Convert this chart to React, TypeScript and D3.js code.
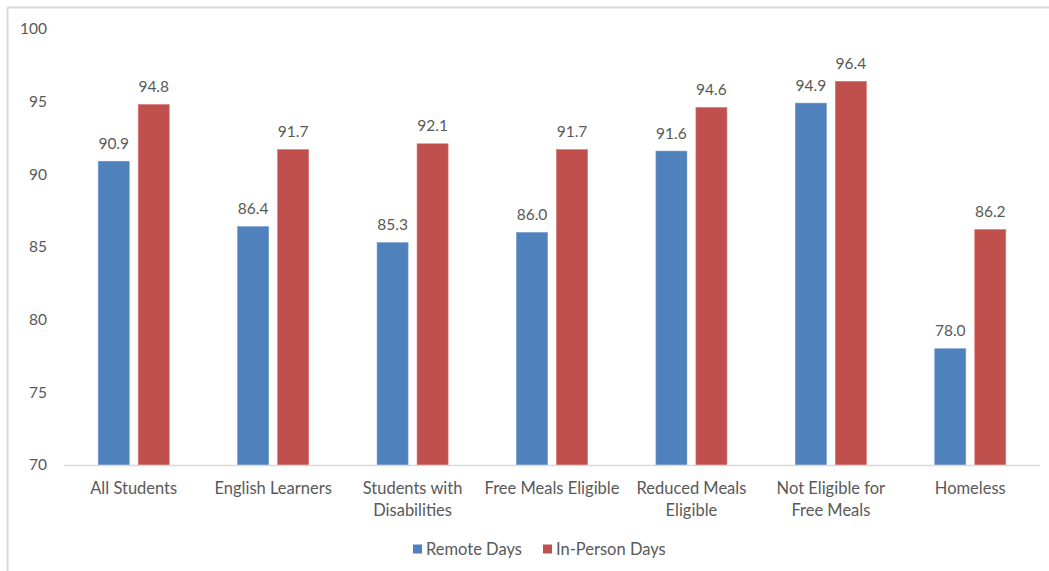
import React from "react";
import * as d3 from "d3";

const categories: string[][] = [
  ["All Students"],
  ["English Learners"],
  ["Students with", "Disabilities"],
  ["Free Meals Eligible"],
  ["Reduced Meals", "Eligible"],
  ["Not Eligible for", "Free Meals"],
  ["Homeless"],
];
const remoteDays = [90.9, 86.4, 85.3, 86.0, 91.6, 94.9, 78.0];
const inPersonDays = [94.8, 91.7, 92.1, 91.7, 94.6, 96.4, 86.2];
const seriesNames = ["Remote Days", "In-Person Days"];
const seriesColors = ["#4f81bd", "#c0504d"];
const yTicks = [70, 75, 80, 85, 90, 95, 100];

const W = 1049;
const H = 571;
const FONT = "Lato, 'Liberation Sans', sans-serif";
const TEXT = "#595959";

export default function App() {
  const plot = { left: 64, right: 1040, top: 29, bottom: 465 };
  const x = d3
    .scaleBand<number>()
    .domain(d3.range(categories.length))
    .range([plot.left, plot.right]);
  const y = d3.scaleLinear().domain([70, 100]).range([plot.bottom, plot.top]);
  const barW = 31;
  const gap = 9;
  const series = [remoteDays, inPersonDays];
  const legendX = [413, 543];

  return (
    <svg
      width={W}
      height={H}
      style={{ position: "absolute", left: 0, top: 0, background: "#fff" }}
      fontFamily={FONT}
    >
      {/* chart frame */}
      <line x1={7.5} y1={7.5} x2={W} y2={7.5} stroke="#d9d9d9" strokeWidth={2} />
      <line x1={7.5} y1={7.5} x2={7.5} y2={H} stroke="#d9d9d9" strokeWidth={2} />

      {/* y axis labels */}
      {yTicks.map((t) => (
        <text
          key={t}
          x={47}
          y={y(t)}
          dy="0.35em"
          textAnchor="end"
          fontSize={15.5}
          fill={TEXT}
        >
          {t}
        </text>
      ))}

      {/* bars and value labels */}
      {categories.map((_, i) => {
        const cx = (x(i) ?? 0) + x.bandwidth() / 2;
        return series.map((vals, s) => {
          const bx = s === 0 ? cx - gap / 2 - barW : cx + gap / 2;
          const v = vals[i];
          return (
            <g key={`${i}-${s}`}>
              <rect
                x={bx}
                y={y(v)}
                width={barW}
                height={y(70) - y(v)}
                fill={seriesColors[s]}
                stroke={s === 0 ? "#6f97cc" : "#d86f6c"}
                strokeWidth={0.6}
              />
              <text
                x={bx + barW / 2}
                y={y(v) - 12.5}
                textAnchor="middle"
                fontSize={15.5}
                fill={TEXT}
              >
                {v.toFixed(1)}
              </text>
            </g>
          );
        });
      })}

      {/* baseline */}
      <line
        x1={plot.left}
        x2={plot.right}
        y1={plot.bottom + 0.5}
        y2={plot.bottom + 0.5}
        stroke="#d9d9d9"
        strokeWidth={1.5}
      />

      {/* category labels */}
      {categories.map((lines, i) => {
        const cx = (x(i) ?? 0) + x.bandwidth() / 2;
        return (
          <text key={i} textAnchor="middle" fontSize={16.5} fill={TEXT}>
            {lines.map((ln, j) => (
              <tspan key={j} x={cx} y={494 + j * 22}>
                {ln}
              </tspan>
            ))}
          </text>
        );
      })}

      {/* legend */}
      {seriesNames.map((name, s) => {
        const lx = legendX[s];
        return (
          <g key={name}>
            <rect x={lx} y={544.5} width={9} height={9} fill={seriesColors[s]} />
            <text x={lx + 13} y={549} dy="0.35em" fontSize={16.5} fill={TEXT}>
              {name}
            </text>
          </g>
        );
      })}
    </svg>
  );
}
